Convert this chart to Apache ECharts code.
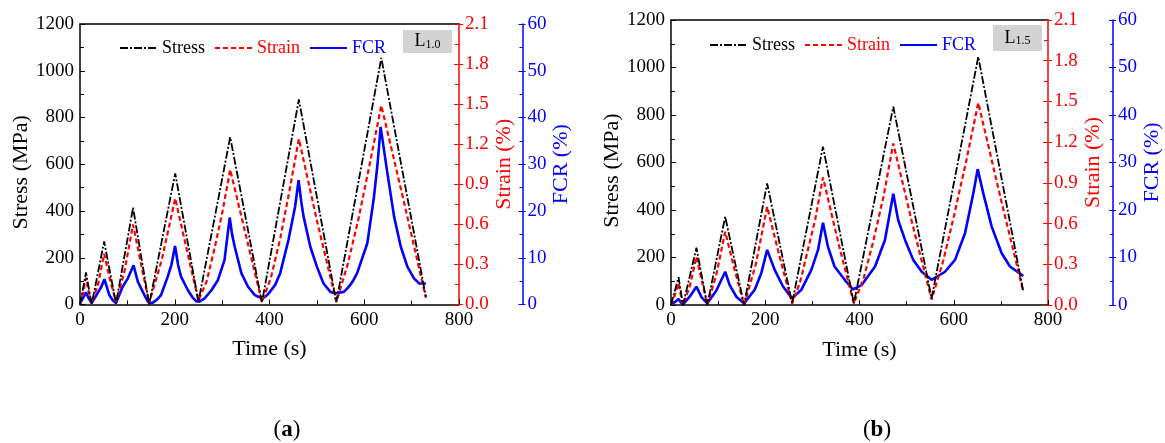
<!DOCTYPE html>
<html>
<head>
<meta charset="utf-8">
<script src="https://cdn.jsdelivr.net/npm/echarts@6/dist/echarts.min.js"></script>
<style>
  html, body { margin: 0; padding: 0; background: #fff; }
  #chart { width: 1165px; height: 443px; }
</style>
</head>
<body>
<div id="chart"></div>
<script>
// Cyclic loading records: [time (s), value]
const stressA = [[0,0],[12.7,137],[24.6,0],[51,270],[76,4],[112,414],[146,0],[201,561],[250,12],[317,716],[384,8],[462,877],[541,10],[636,1055],[730,34]];
const strainA = [[0,0],[6,0.08],[12.7,0.2],[18,0.1],[24.6,0.01],[38,0.15],[51,0.38],[63,0.19],[76,0.02],[94,0.25],[112,0.6],[129,0.3],[146,0.01],[173,0.34],[201,0.795],[226,0.4],[250,0.03],[267,0.17],[284,0.42],[301,0.7],[317,1.01],[350,0.52],[384,0.02],[403,0.2],[423,0.5],[442,0.85],[462,1.24],[500,0.63],[541,0.02],[565,0.3],[589,0.66],[612,1.06],[636,1.49],[683,0.78],[730,0.05]];
const fcrA = [[0,0.3],[6,1.3],[12.7,2.6],[18,1.4],[24.6,0.3],[37,2.4],[45,3.8],[51.5,5.4],[62,2.0],[70,0.8],[76,0.3],[90,3.8],[101,5.6],[113,8.4],[122,4.9],[136,2.0],[144,0.5],[152,0.3],[162,1.0],[171,2.0],[185,5.9],[193,8.5],[200.6,12.5],[207,8.5],[213,6.0],[227.5,3.1],[237,1.6],[245,0.7],[252,0.6],[263,1.3],[277,3.0],[291,5.2],[305,9.5],[316,18.6],[321,15.0],[326.5,12.4],[340.6,6.7],[354.7,3.8],[369,2.0],[380,1.5],[390,1.6],[397,2.2],[412,4.2],[422.6,6.7],[440,13.8],[454,20.9],[461.4,26.6],[467,22.0],[472,18.8],[486,12.4],[500,8.1],[514,4.5],[528.6,2.7],[539,2.4],[557,2.7],[567.5,3.8],[576,5.0],[585,6.7],[606.5,13.1],[620.5,23.0],[628,30.0],[634.6,38.0],[649,28.0],[663,18.8],[677,12.4],[691,8.1],[705,5.6],[716,4.5],[730,4.5]];

const stressB = [[0,0],[16,117],[25.5,0],[54,241],[77,0],[115,372],[155,0],[204,512],[257,7],[322.5,667],[388,7],[471.7,835],[553,28],[652,1045],[747.6,56]];
const strainB = [[0,0],[8,0.07],[16,0.16],[21,0.07],[25.5,0],[40,0.14],[54,0.356],[66,0.17],[77,0],[96,0.22],[115,0.54],[135,0.26],[155,0],[180,0.3],[204,0.724],[231,0.35],[257,0.01],[274,0.17],[290,0.4],[306,0.63],[322.5,0.94],[355,0.46],[388,0.01],[409,0.2],[430,0.48],[451,0.8],[471.7,1.19],[512,0.6],[553,0.04],[578,0.33],[602,0.68],[627,1.07],[652,1.49],[700,0.78],[747.6,0.098]];
const fcrB = [[0,0.1],[8,0.6],[16,1.26],[21,0.5],[25.5,0.1],[40,1.8],[54,3.86],[65,1.6],[77,0.35],[96,3.0],[115,7.0],[124.5,4.2],[138.6,1.75],[155,0.35],[177.6,3.2],[191.6,6.7],[204,11.6],[220,7.4],[237.7,3.9],[257,1.4],[276.6,3.2],[297.8,7.4],[312,11.6],[322.5,17.3],[333,12.3],[347,8.1],[368.6,5.3],[386,3.3],[404.6,4.2],[433,8.1],[454,13.7],[471.7,23.4],[482,17.9],[496.6,13.7],[514,9.5],[532,7.0],[553,5.3],[581.4,7.0],[602.7,9.5],[623.9,15.1],[641.5,23.5],[650.8,28.6],[662.7,23.5],[680.5,16.5],[701.7,10.9],[719.4,8.1],[735,7.0],[747.6,6.1]];

// Axis ranges and tick steps
const timeTicks = [0, 800, 200];
const stressTicks = [0, 1200, 200];
const strainTicks = [0, 2.1, 0.3];
const fcrTicks = [0, 60, 10];

const FONT = 'Liberation Serif';
const RED = '#ff0000', BLUE = '#0000ff', BLACK = '#000000';

const panels = [
  { grid: { left: 80, top: 24, width: 379, height: 280.5 }, stress: stressA, strain: strainA, fcr: fcrA,
    fcrOffset: 63.5, gaps: [47, 34, 27], legend: { left: 114, top: 34 }, tag: '1.0',
    box: { x: 403, y: 30, w: 49, h: 23 }, caption: 'a', capX: 287 },
  { grid: { left: 671, top: 20, width: 377, height: 285 }, stress: stressB, strain: strainB, fcr: fcrB,
    fcrOffset: 65, gaps: [48, 34, 28], legend: { left: 704, top: 31 }, tag: '1.5',
    box: { x: 993, y: 25, w: 49, h: 26 }, caption: 'b', capX: 877 }
];

const plain = v => String(v);
const grids = [], xAxes = [], yAxes = [], series = [], legends = [], graphics = [];

panels.forEach((p, i) => {
  grids.push(Object.assign({ containLabel: false }, p.grid));
  const xi = xAxes.length, yi = yAxes.length;

  // bottom time axis
  xAxes.push({
    gridIndex: i, type: 'value', position: 'bottom',
    min: timeTicks[0], max: timeTicks[1], interval: timeTicks[2],
    name: 'Time (s)', nameLocation: 'middle', nameGap: 34,
    nameTextStyle: { fontFamily: FONT, fontSize: 22, color: BLACK },
    axisLine: { onZero: false, lineStyle: { color: BLACK, width: 1.5 } },
    axisTick: { inside: true, length: 5, lineStyle: { color: BLACK } },
    minorTick: { show: true, splitNumber: 2, length: 4, lineStyle: { color: BLACK } },
    axisLabel: { fontFamily: FONT, fontSize: 19, color: BLACK, margin: 6, formatter: plain },
    splitLine: { show: false }
  });
  // top frame
  xAxes.push({
    gridIndex: i, type: 'value', position: 'top',
    min: timeTicks[0], max: timeTicks[1], interval: timeTicks[2],
    axisLine: { onZero: false, lineStyle: { color: BLACK, width: 1.5 } },
    axisTick: { show: false }, axisLabel: { show: false }, splitLine: { show: false }
  });

  // stress (left)
  yAxes.push({
    gridIndex: i, type: 'value', position: 'left',
    min: stressTicks[0], max: stressTicks[1], interval: stressTicks[2],
    name: 'Stress (MPa)', nameLocation: 'middle', nameGap: p.gaps[0], nameRotate: 90,
    nameTextStyle: { fontFamily: FONT, fontSize: 22, color: BLACK, padding: [0, 16, 0, 0] },
    axisLine: { show: true, onZero: false, lineStyle: { color: BLACK, width: 1.5 } },
    axisTick: { show: true, inside: true, length: 5, lineStyle: { color: BLACK } },
    minorTick: { show: true, splitNumber: 2, length: 4, lineStyle: { color: BLACK } },
    axisLabel: { fontFamily: FONT, fontSize: 19, color: BLACK, margin: 6, formatter: plain },
    splitLine: { show: false }
  });
  // strain (right)
  yAxes.push({
    gridIndex: i, type: 'value', position: 'right',
    min: strainTicks[0], max: strainTicks[1], interval: strainTicks[2],
    name: 'Strain (%)', nameLocation: 'middle', nameGap: p.gaps[1], nameRotate: 90,
    nameTextStyle: { fontFamily: FONT, fontSize: 22, color: RED },
    axisLine: { show: true, onZero: false, lineStyle: { color: RED, width: 1.5 } },
    axisTick: { show: true, inside: true, length: 5, lineStyle: { color: RED } },
    minorTick: { show: true, splitNumber: 2, length: 4, lineStyle: { color: RED } },
    axisLabel: { fontFamily: FONT, fontSize: 19, color: RED, margin: 6,
      formatter: v => v.toFixed(1) },
    splitLine: { show: false }
  });
  // strain outward major ticks
  yAxes.push({
    gridIndex: i, type: 'value', position: 'right',
    min: strainTicks[0], max: strainTicks[1], interval: strainTicks[2],
    axisLine: { show: false, onZero: false },
    axisTick: { show: true, inside: false, length: 4, lineStyle: { color: RED } },
    axisLabel: { show: false }, splitLine: { show: false }
  });
  // FCR (offset right)
  yAxes.push({
    gridIndex: i, type: 'value', position: 'right', offset: p.fcrOffset,
    min: fcrTicks[0], max: fcrTicks[1], interval: fcrTicks[2],
    name: 'FCR (%)', nameLocation: 'middle', nameGap: p.gaps[2], nameRotate: 90,
    nameTextStyle: { fontFamily: FONT, fontSize: 22, color: BLUE },
    axisLine: { show: true, onZero: false, lineStyle: { color: BLUE, width: 1.5 } },
    axisTick: { show: true, inside: true, length: 4, lineStyle: { color: BLUE } },
    minorTick: { show: true, splitNumber: 2, length: 3, lineStyle: { color: BLUE } },
    axisLabel: { fontFamily: FONT, fontSize: 19, color: BLUE, margin: 5, formatter: plain },
    splitLine: { show: false }
  });
  // FCR outward major ticks
  yAxes.push({
    gridIndex: i, type: 'value', position: 'right', offset: p.fcrOffset,
    min: fcrTicks[0], max: fcrTicks[1], interval: fcrTicks[2],
    axisLine: { show: false, onZero: false },
    axisTick: { show: true, inside: false, length: 3, lineStyle: { color: BLUE } },
    axisLabel: { show: false }, splitLine: { show: false }
  });

  series.push({
    name: 'FCR', type: 'line', xAxisIndex: xi, yAxisIndex: yi + 3, data: p.fcr,
    symbol: 'none', smooth: false, lineStyle: { color: BLUE, width: 2.6 }, itemStyle: { color: BLUE }
  });
  series.push({
    name: 'Strain', type: 'line', xAxisIndex: xi, yAxisIndex: yi + 1, data: p.strain,
    symbol: 'none', lineStyle: { color: RED, width: 2.2, type: [5, 3] }, itemStyle: { color: RED }
  });
  series.push({
    name: 'Stress', type: 'line', xAxisIndex: xi, yAxisIndex: yi, data: p.stress,
    symbol: 'none', lineStyle: { color: BLACK, width: 1.8, type: [8, 2, 2, 2] }, itemStyle: { color: BLACK }
  });

  legends.push({
    left: p.legend.left, top: p.legend.top, orient: 'horizontal',
    itemWidth: 37, itemHeight: 14, itemGap: 9, selectedMode: false,
    itemStyle: { color: 'rgba(0,0,0,0)', borderColor: 'rgba(0,0,0,0)', borderWidth: 0, opacity: 0 },
    textStyle: { fontFamily: FONT, fontSize: 18 },
    data: [
      { name: 'Stress', textStyle: { color: BLACK, fontFamily: FONT, fontSize: 18 } },
      { name: 'Strain', textStyle: { color: RED, fontFamily: FONT, fontSize: 18 } },
      { name: 'FCR', textStyle: { color: BLUE, fontFamily: FONT, fontSize: 18 } }
    ]
  });

  graphics.push({
    type: 'rect', shape: { x: p.box.x, y: p.box.y, width: p.box.w, height: p.box.h },
    style: { fill: '#d3d3d3' }
  });
  graphics.push({
    type: 'text', x: p.box.x + p.box.w / 2, y: p.box.y + p.box.h / 2,
    style: {
      text: '{l|L}{s|' + p.tag + '}', align: 'center', verticalAlign: 'middle',
      rich: {
        l: { fontFamily: FONT, fontSize: 18, fill: BLACK, verticalAlign: 'bottom' },
        s: { fontFamily: FONT, fontSize: 12, fill: BLACK, verticalAlign: 'bottom' }
      }
    }
  });
  graphics.push({
    type: 'text', x: p.capX, y: 430,
    style: {
      text: '{n|(}{b|' + p.caption + '}{n|)}', align: 'center', verticalAlign: 'middle',
      rich: {
        n: { fontFamily: FONT, fontSize: 23, fill: BLACK },
        b: { fontFamily: FONT, fontSize: 23, fontWeight: 'bold', fill: BLACK }
      }
    }
  });
});

const chart = echarts.init(document.getElementById('chart'), null, { renderer: 'canvas' });
chart.setOption({
  animation: false,
  backgroundColor: '#ffffff',
  textStyle: { fontFamily: FONT },
  grid: grids, xAxis: xAxes, yAxis: yAxes, series: series, legend: legends,
  graphic: graphics
});
</script>
</body>
</html>
